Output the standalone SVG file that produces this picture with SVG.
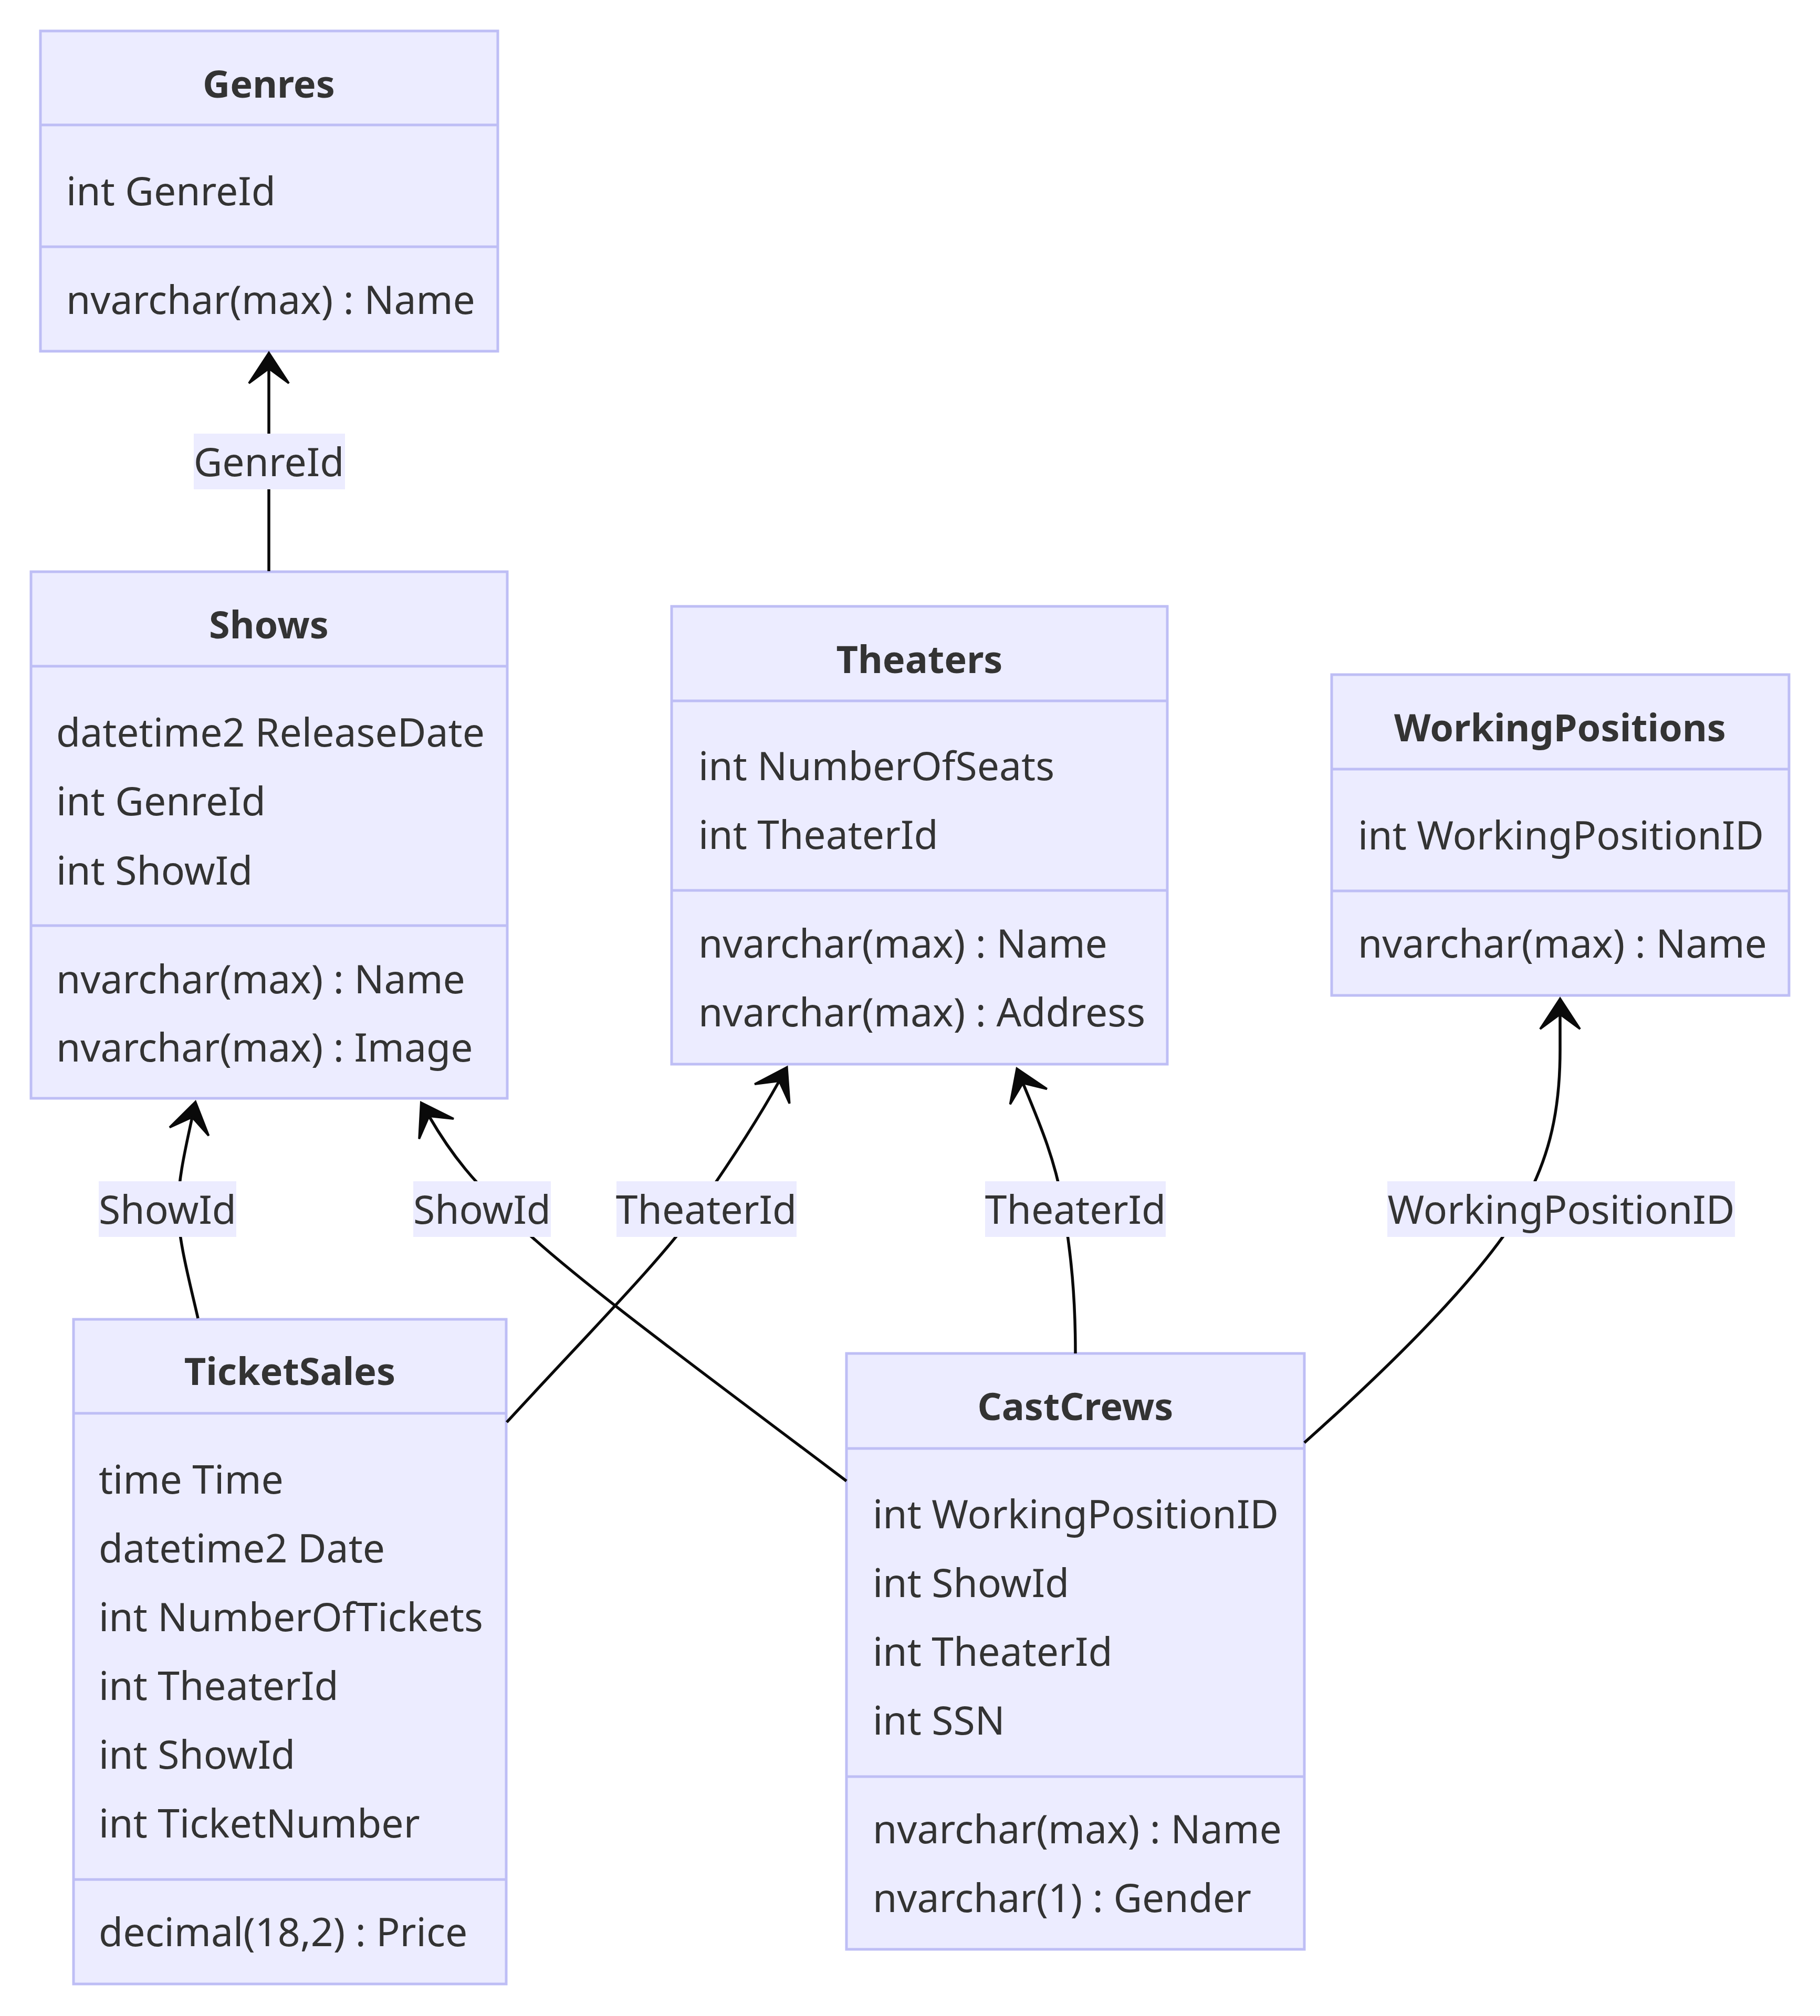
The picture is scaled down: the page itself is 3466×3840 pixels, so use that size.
<svg xmlns="http://www.w3.org/2000/svg" width="3466" height="3840" viewBox="0 0 3466 3840">
<style>
.box{fill:#ECECFF;stroke:#BEBEF5;stroke-width:5}
.div{stroke:#BEBEF5;stroke-width:5}
.t{font-family:"Noto Sans","Open Sans",sans-serif;font-size:75px;fill:#333333}
.b{font-weight:bold;text-anchor:middle;font-size:72px}
.c{text-anchor:middle}
.edge{fill:none;stroke:#0a0a0a;stroke-width:5.5}
.lbl{fill:#ECECFF}
</style>
<defs>
<marker id="arr" markerUnits="userSpaceOnUse" viewBox="0 0 60 80" refX="28" refY="38" markerWidth="60" markerHeight="80" orient="auto" overflow="visible">
<path d="M58,38 L0,0 L28,38 L0,76 Z" fill="#0a0a0a" stroke="#0a0a0a" stroke-width="4" stroke-miterlimit="3"/>
</marker>
</defs>
<rect width="3466" height="3840" fill="#ffffff"/>

<g id="Genres">
<rect class="box" x="77" y="59" width="871" height="610"/>
<line class="div" x1="77" y1="238" x2="948" y2="238"/>
<line class="div" x1="77" y1="470" x2="948" y2="470"/>
<text class="t b" x="512" y="186">Genres</text>
<text class="t" x="126" y="391">int GenreId</text>
<text class="t" x="126" y="598">nvarchar(max) : Name</text>
</g>

<g id="Shows">
<rect class="box" x="59" y="1089" width="907" height="1003"/>
<line class="div" x1="59" y1="1269" x2="966" y2="1269"/>
<line class="div" x1="59" y1="1763" x2="966" y2="1763"/>
<text class="t b" x="512" y="1216">Shows</text>
<text class="t" x="107" y="1422">datetime2 ReleaseDate</text>
<text class="t" x="107" y="1553">int GenreId</text>
<text class="t" x="107" y="1685">int ShowId</text>
<text class="t" x="107" y="1892">nvarchar(max) : Name</text>
<text class="t" x="107" y="2022">nvarchar(max) : Image</text>
</g>

<g id="Theaters">
<rect class="box" x="1279" y="1155" width="944" height="872"/>
<line class="div" x1="1279" y1="1335" x2="2223" y2="1335"/>
<line class="div" x1="1279" y1="1696" x2="2223" y2="1696"/>
<text class="t b" x="1751" y="1282">Theaters</text>
<text class="t" x="1330" y="1486">int NumberOfSeats</text>
<text class="t" x="1330" y="1617">int TheaterId</text>
<text class="t" x="1330" y="1824">nvarchar(max) : Name</text>
<text class="t" x="1330" y="1955">nvarchar(max) : Address</text>
</g>

<g id="WorkingPositions">
<rect class="box" x="2536" y="1285" width="871" height="611"/>
<line class="div" x1="2536" y1="1465" x2="3407" y2="1465"/>
<line class="div" x1="2536" y1="1697" x2="3407" y2="1697"/>
<text class="t b" x="2971" y="1412">WorkingPositions</text>
<text class="t" x="2586" y="1618">int WorkingPositionID</text>
<text class="t" x="2586" y="1824">nvarchar(max) : Name</text>
</g>

<g id="TicketSales">
<rect class="box" x="140" y="2513" width="824" height="1266"/>
<line class="div" x1="140" y1="2692" x2="964" y2="2692"/>
<line class="div" x1="140" y1="3580" x2="964" y2="3580"/>
<text class="t b" x="552" y="2638">TicketSales</text>
<text class="t" x="188" y="2845">time Time</text>
<text class="t" x="188" y="2976">datetime2 Date</text>
<text class="t" x="188" y="3107">int NumberOfTickets</text>
<text class="t" x="188" y="3238">int TheaterId</text>
<text class="t" x="188" y="3369">int ShowId</text>
<text class="t" x="188" y="3500">int TicketNumber</text>
<text class="t" x="188" y="3707">decimal(18,2) : Price</text>
</g>

<g id="CastCrews">
<rect class="box" x="1612" y="2578" width="872" height="1135"/>
<line class="div" x1="1612" y1="2759" x2="2484" y2="2759"/>
<line class="div" x1="1612" y1="3384" x2="2484" y2="3384"/>
<text class="t b" x="2048" y="2705">CastCrews</text>
<text class="t" x="1662" y="2911">int WorkingPositionID</text>
<text class="t" x="1662" y="3042">int ShowId</text>
<text class="t" x="1662" y="3173">int TheaterId</text>
<text class="t" x="1662" y="3304">int SSN</text>
<text class="t" x="1662" y="3511">nvarchar(max) : Name</text>
<text class="t" x="1662" y="3642">nvarchar(1) : Gender</text>
</g>

<g id="connectors">
<path class="edge" marker-end="url(#arr)" d="M512,1088 L512,702"/>
<path class="edge" marker-end="url(#arr)" d="M377,2511 C362,2445 339,2360 339,2303 C339,2245 355,2180 366,2128"/>
<path class="edge" marker-end="url(#arr)" d="M1612,2821 C1350,2623 1100,2440 990,2335 C900,2250 860,2200 817,2126"/>
<path class="edge" marker-end="url(#arr)" d="M965,2709 C1120,2540 1260,2400 1330,2300 C1400,2200 1450,2120 1484,2059"/>
<path class="edge" marker-end="url(#arr)" d="M2048,2578 C2048,2470 2040,2390 2025,2300 C2010,2210 1980,2140 1948,2063"/>
<path class="edge" marker-end="url(#arr)" d="M2484,2748 C2650,2600 2800,2450 2880,2330 C2950,2220 2971,2120 2971,2000 L2971,1932"/>

<rect class="lbl" x="369" y="826" width="288" height="106"/>
<text class="t c" x="512" y="907">GenreId</text>
<rect class="lbl" x="188" y="2250" width="262" height="106"/>
<text class="t c" x="319" y="2331">ShowId</text>
<rect class="lbl" x="787" y="2250" width="262" height="106"/>
<text class="t c" x="918" y="2331">ShowId</text>
<rect class="lbl" x="1174" y="2250" width="343" height="106"/>
<text class="t c" x="1345" y="2331">TheaterId</text>
<rect class="lbl" x="1876" y="2250" width="344" height="106"/>
<text class="t c" x="2048" y="2331">TheaterId</text>
<rect class="lbl" x="2642" y="2250" width="662" height="106"/>
<text class="t c" x="2973" y="2331">WorkingPositionID</text>
</g>
</svg>
